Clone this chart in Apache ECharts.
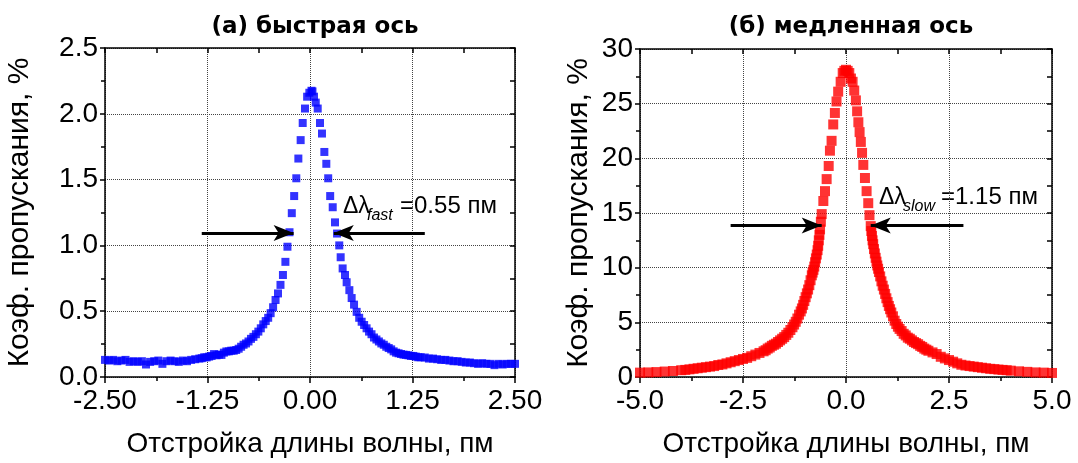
<!DOCTYPE html>
<html>
<head>
<meta charset="utf-8">
<script src="https://cdn.jsdelivr.net/npm/echarts@6/dist/echarts.min.js"></script>
<style>
html,body{margin:0;padding:0;background:#fff;}
#chart{width:1078px;height:463px;}
</style>
</head>
<body>
<div id="chart"></div>
<script>
// ---------- DATA ----------
const titleFast = '(а) быстрая ось';
const titleSlow = '(б) медленная ось';
const xName = 'Отстройка длины волны, пм';
const yName = 'Коэф. пропускания, %';

const fastXTicks = ['-2.50', '-1.25', '0.00', '1.25', '2.50'];
const fastYTicks = ['0.0', '0.5', '1.0', '1.5', '2.0', '2.5'];
const slowXTicks = ['-5.0', '-2.5', '0.0', '2.5', '5.0'];
const slowYTicks = ['0', '5', '10', '15', '20', '25', '30'];

// fast axis (blue) : detuning, pm
const fastX = [
 -2.50,-2.45,-2.40,-2.35,-2.30,-2.25,-2.20,-2.15,-2.10,-2.05,-2.00,-1.95,-1.90,-1.85,-1.80,-1.75,-1.70,-1.65,-1.60,-1.55,-1.50,-1.45,-1.40,
 -1.35,-1.32,-1.29,-1.26,-1.23,-1.20,-1.17,-1.14,-1.11,-1.08,-1.05,-1.02,-0.99,-0.96,-0.93,-0.90,-0.87,-0.84,-0.81,-0.78,-0.75,-0.72,-0.69,-0.66,-0.63,-0.60,-0.57,-0.54,-0.51,-0.48,-0.45,-0.42,-0.39,-0.36,-0.33,-0.30,-0.275,-0.25,-0.222,-0.193,-0.167,-0.142,-0.114,-0.089,-0.061,-0.035,-0.008,
 0.018,0.03,0.049,0.07,0.094,0.122,0.146,0.175,0.199,0.222,0.246,0.277,0.305,0.33,0.357,0.374,0.398,0.427,0.447,0.48,0.508,0.537,0.569,0.60,0.63,0.66,0.69,0.72,0.75,0.78,0.81,0.84,0.87,0.90,0.93,0.96,0.99,1.02,1.05,1.08,1.11,1.14,1.17,1.20,1.23,1.26,1.29,1.32,1.35,
 1.40,1.45,1.50,1.55,1.60,1.65,1.70,1.75,1.80,1.85,1.90,1.95,2.00,2.05,2.10,2.15,2.20,2.25,2.30,2.35,2.40,2.45,2.50
];
// fast axis transmission, %
const fastY = [
 0.13,0.125,0.13,0.12,0.125,0.13,0.115,0.12,0.115,0.12,0.095,0.115,0.12,0.125,0.10,0.12,0.125,0.12,0.115,0.125,0.12,0.13,0.135,
 0.14,0.143,0.15,0.149,0.155,0.16,0.174,0.165,0.17,0.168,0.185,0.194,0.195,0.20,0.20,0.205,0.215,0.23,0.245,0.255,0.27,0.29,0.305,0.325,0.345,0.37,0.40,0.425,0.45,0.485,0.53,0.585,0.635,0.70,0.775,0.875,0.99,1.10,1.245,1.375,1.51,1.66,1.80,1.93,2.04,2.13,2.16,
 2.175,2.17,2.13,2.085,2.04,1.93,1.85,1.71,1.62,1.51,1.375,1.29,1.175,1.09,1.0,0.91,0.825,0.775,0.72,0.66,0.60,0.55,0.495,0.45,0.42,0.395,0.37,0.345,0.325,0.30,0.285,0.27,0.255,0.245,0.23,0.22,0.21,0.195,0.185,0.18,0.175,0.17,0.168,0.165,0.16,0.16,0.155,0.15,0.15,
 0.148,0.14,0.14,0.135,0.13,0.13,0.125,0.12,0.12,0.115,0.11,0.11,0.105,0.10,0.105,0.10,0.10,0.09,0.10,0.095,0.10,0.10,0.10
];

// slow axis (red) : detuning, pm
const slowX = [
 -5.0,-4.8,-4.6,-4.4,-4.2,-4.0,-3.9,-3.8,-3.7,-3.6,-3.5,-3.4,-3.3,-3.2,-3.1,-3.0,-2.9,-2.8,-2.7,-2.6,-2.5,-2.4,-2.3,-2.2,-2.1,
 -2.0,-1.95,-1.90,-1.85,-1.80,-1.75,-1.70,-1.65,-1.60,-1.55,-1.50,-1.45,-1.40,-1.35,-1.30,-1.26,-1.22,-1.18,-1.14,-1.10,-1.07,-1.04,-1.01,-0.98,-0.95,-0.92,-0.89,-0.86,-0.83,-0.81,-0.79,-0.77,-0.75,-0.73,-0.71,-0.69,-0.675,-0.66,-0.645,-0.63,-0.61,
 -0.59,-0.55,-0.51,-0.47,-0.42,-0.39,-0.35,-0.31,-0.27,-0.23,-0.19,-0.13,-0.08,-0.04,0.0,0.04,0.08,0.12,0.16,0.20,0.24,0.27,0.30,0.33,0.36,0.39,0.42,0.46,0.50,0.54,0.57,
 0.60,0.615,0.63,0.645,0.66,0.68,0.70,0.72,0.74,0.76,0.78,0.80,0.83,0.86,0.89,0.92,0.95,0.98,1.01,1.04,1.07,1.10,1.14,1.18,1.22,1.26,1.30,1.35,1.40,1.45,1.50,1.55,1.60,1.65,1.70,1.75,1.80,1.85,1.90,1.95,2.0,
 2.1,2.2,2.3,2.4,2.5,2.6,2.7,2.8,2.9,3.0,3.1,3.2,3.3,3.4,3.5,3.6,3.7,3.8,3.9,4.0,4.2,4.4,4.6,4.8,5.0
];
// slow axis transmission, %
const slowY = [
 0.40,0.42,0.45,0.50,0.55,0.62,0.65,0.70,0.75,0.80,0.85,0.90,0.95,1.0,1.1,1.15,1.25,1.35,1.45,1.55,1.65,1.75,1.9,2.05,2.2,
 2.35,2.45,2.6,2.7,2.85,2.95,3.05,3.2,3.35,3.5,3.65,3.85,4.05,4.3,4.55,4.8,5.05,5.35,5.7,6.0,6.27,6.6,6.95,7.3,7.65,8.0,8.4,8.85,9.3,9.55,9.8,10.1,10.5,10.85,11.2,11.6,12.0,12.5,13.0,13.5,14.2,
 14.9,16.1,17.0,18.1,19.3,20.7,21.6,23.1,24.15,25.2,26.1,27.0,27.8,28.0,28.1,28.0,27.8,27.3,27.0,26.2,25.3,24.3,23.3,22.4,21.5,20.5,19.4,18.2,17.0,15.9,14.8,
 13.8,13.35,12.9,12.5,12.15,11.7,11.3,10.9,10.55,10.2,9.9,9.6,9.2,8.75,8.35,8.0,7.6,7.2,6.85,6.5,6.2,5.9,5.55,5.15,4.85,4.6,4.4,4.2,3.95,3.8,3.6,3.5,3.35,3.2,3.1,3.0,2.85,2.75,2.6,2.5,2.4,
 2.25,2.1,1.85,1.7,1.55,1.4,1.25,1.12,1.05,1.0,0.95,0.9,0.85,0.8,0.75,0.72,0.68,0.65,0.62,0.58,0.52,0.47,0.42,0.40,0.37
];

// FWHM arrows: [xStart, xTip, y]
const fastArrowL = [-1.32, -0.20, 1.095];
const fastArrowR = [1.40, 0.29, 1.095];
const slowArrowL = [-2.80, -0.59, 13.85];
const slowArrowR = [2.85, 0.60, 13.85];
const fastLabel = {main: 'Δλ', sub: 'fast', value: '=0.55 пм'};
const slowLabel = {main: 'Δλ', sub: 'slow', value: '=1.15 пм'};

// ---------- CHART ----------
const FONT = 'Liberation Sans, Arial, sans-serif';
const zip = (xs, ys) => xs.map((x, i) => [x, ys[i]]);

function xAxisPair(grid, min, max, interval, labels) {
  const common = {
    type: 'value', gridIndex: grid, min: min, max: max, interval: interval,
    axisLine: {show: true, onZero: false, lineStyle: {color: '#000', width: 1.5}},
    splitLine: {show: false}
  };
  return [
    Object.assign({}, common, {
      position: 'bottom',
      axisTick: {show: true, inside: false, length: 6, lineStyle: {color: '#000', width: 1.5}},
      minorTick: {show: true, splitNumber: 2, length: 4, lineStyle: {color: '#000', width: 1.5}},
      splitLine: {show: true, lineStyle: {type: 'dotted', color: '#444', width: 1}},
      axisLabel: {show: true, fontSize: 28, color: '#000', fontFamily: FONT, margin: 10,
        showMinLabel: true, showMaxLabel: true,
        formatter: (v, i) => labels[i]},
      name: xName, nameLocation: 'middle', nameGap: 53,
      nameTextStyle: {fontSize: 28, color: '#000', fontFamily: FONT}
    }),
    Object.assign({}, common, {
      position: 'top',
      axisTick: {show: true, inside: true, length: 5, lineStyle: {color: '#000', width: 1.5}},
      minorTick: {show: true, splitNumber: 2, length: 5, lineStyle: {color: '#000', width: 1.5}},
      axisLabel: {show: false}
    })
  ];
}
function yAxisPair(grid, min, max, interval, labels, gap) {
  const common = {
    type: 'value', gridIndex: grid, min: min, max: max, interval: interval,
    axisLine: {show: true, onZero: false, lineStyle: {color: '#000', width: 1.5}},
    splitLine: {show: false}
  };
  return [
    Object.assign({}, common, {
      position: 'left',
      axisTick: {show: true, inside: false, length: 5, lineStyle: {color: '#000', width: 1.5}},
      minorTick: {show: true, splitNumber: 2, length: 4, lineStyle: {color: '#000', width: 1.5}},
      splitLine: {show: true, lineStyle: {type: 'dotted', color: '#444', width: 1}},
      axisLabel: {show: true, fontSize: 28, color: '#000', fontFamily: FONT, margin: 7,
        showMinLabel: true, showMaxLabel: true,
        formatter: (v, i) => labels[i]},
      name: yName, nameLocation: 'middle', nameGap: gap,
      nameTextStyle: {fontSize: 30, color: '#000', fontFamily: FONT}
    }),
    Object.assign({}, common, {
      position: 'right',
      axisTick: {show: true, inside: true, length: 5, lineStyle: {color: '#000', width: 1.5}},
      minorTick: {show: true, splitNumber: 2, length: 5, lineStyle: {color: '#000', width: 1.5}},
      axisLabel: {show: false}
    })
  ];
}

function arrow(a) {
  return [{coord: [a[0], a[2]], symbol: 'none'}, {coord: [a[1], a[2]], symbol: 'arrow'}];
}
const arrowLine = (arrows) => ({
  silent: true, animation: false,
  symbol: ['none', 'arrow'], symbolSize: [12, 20],
  label: {show: false},
  lineStyle: {color: '#000', width: 3, type: 'solid'},
  data: arrows.map(arrow)
});

const chart = echarts.init(document.getElementById('chart'), null, {renderer: 'canvas'});

const titleStyle = {fontFamily: 'DejaVu Sans', fontWeight: 'bold', fontSize: 23, color: '#000'};

function labelGraphics(x, y, lab, valueOffset) {
  return [
    {type: 'text', left: x, top: y - 13, style: {text: lab.main, font: '23px ' + FONT, fill: '#000'}},
    {type: 'text', left: x + 24, top: y, style: {text: lab.sub, font: 'italic 16px ' + FONT, fill: '#000'}},
    {type: 'text', left: x + valueOffset, top: y - 14, style: {text: lab.value, font: '24px ' + FONT, fill: '#000'}}
  ];
}

const option = {
  animation: false,
  backgroundColor: '#fff',
  title: [
    {text: titleFast, left: 310, top: 11, textAlign: 'center', textStyle: titleStyle},
    {text: titleSlow, left: 846, top: 11, textAlign: 'center', textStyle: titleStyle}
  ],
  grid: [
    {left: 105, top: 48, width: 410, height: 331, containLabel: false, show: false},
    {left: 640, top: 49, width: 412, height: 330, containLabel: false, show: false}
  ],
  xAxis: [].concat(xAxisPair(0, -2.5, 2.5, 1.25, fastXTicks), xAxisPair(1, -5, 5, 2.5, slowXTicks)),
  yAxis: [].concat(yAxisPair(0, 0, 2.5, 0.5, fastYTicks, 70), yAxisPair(1, 0, 30, 5, slowYTicks, 46)),
  series: [
    {
      type: 'scatter', xAxisIndex: 0, yAxisIndex: 0,
      symbol: 'rect', symbolSize: 8,
      itemStyle: {color: '#0000ff'},
      data: zip(fastX, fastY),
      markLine: arrowLine([fastArrowL, fastArrowR])
    },
    {
      type: 'scatter', xAxisIndex: 2, yAxisIndex: 2,
      symbol: 'rect', symbolSize: 10,
      itemStyle: {color: '#ff0000'},
      data: zip(slowX, slowY),
      markLine: arrowLine([slowArrowL, slowArrowR])
    }
  ],
  graphic: [].concat(labelGraphics(343, 208, fastLabel, 57), labelGraphics(879, 199, slowLabel, 62))
};
chart.setOption(option);
</script>
</body>
</html>
